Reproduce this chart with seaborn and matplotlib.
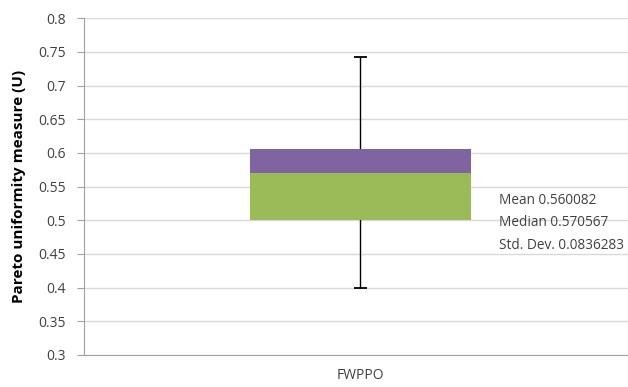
import numpy as np
import pandas as pd
import matplotlib
matplotlib.use('Agg')
import matplotlib.pyplot as plt
import seaborn as sns

# values
categories = ['FWPPO']
q1 = [0.5]
median = [0.5706]
q3 = [0.605]
whisker_low = [0.4]
whisker_high = [0.742]
stat_names = ['Mean', 'Median', 'Std. Dev.']
stat_values = ['0.560082', '0.570567', '0.0836283']

sns.set_style('white')
plt.rcParams['font.family'] = ['Open Sans', 'DejaVu Sans']

df = pd.DataFrame({'method': categories, 'q1': q1, 'median': median, 'q3': q3,
                   'lo': whisker_low, 'hi': whisker_high})
df['lower'] = df['median'] - df['q1']
df['upper'] = df['q3'] - df['median']

fig = plt.figure(figsize=(6.28, 3.87), dpi=100)
ax = fig.add_axes([0.134, 0.083, 0.88, 0.87])

# whisker behind the box
for i, row in df.iterrows():
    ax.vlines(i, row['lo'], row['hi'], color='black', lw=1.0, zorder=1)
    ax.hlines([row['lo'], row['hi']], i - 0.011, i + 0.011, color='black', lw=1.3, zorder=1)

sns.barplot(data=df, x='method', y='lower', bottom=df['q1'], color='#9BBB59',
            saturation=1, width=0.4, linewidth=0, ax=ax, zorder=2)
sns.barplot(data=df, x='method', y='upper', bottom=df['median'], color='#8064A2',
            saturation=1, width=0.4, linewidth=0, ax=ax, zorder=2)

ax.set_xlim(-0.5, 0.5)
ax.set_ylim(0.3, 0.8)
ax.set_yticks(np.arange(0.3, 0.801, 0.05))
ax.set_yticklabels(['%g' % round(v, 2) for v in np.arange(0.3, 0.801, 0.05)])
ax.yaxis.grid(True, color='#D9D9D9', lw=1)
ax.set_axisbelow(True)
ax.tick_params(axis='y', left=True, length=5, color='#A0A0A0', labelsize=10,
               labelcolor='#404040', pad=8)
ax.tick_params(axis='x', bottom=False, labelsize=10, labelcolor='#404040', pad=6)
ax.set_xlabel('')
ax.set_ylabel('Pareto uniformity measure (U)', fontsize=11, fontweight='bold',
              color='black')
ax.yaxis.set_label_coords(-0.105, 0.5)
for s in ['top', 'right']:
    ax.spines[s].set_visible(False)
for s in ['left', 'bottom']:
    ax.spines[s].set_color('#A0A0A0')

for k, (n, v) in enumerate(zip(stat_names, stat_values)):
    ax.text(0.25, 0.530 - k * 0.034, n + ' ' + v, fontsize=9.8, color='#404040',
            va='center', ha='left', clip_on=False)

fig.savefig('out.png', dpi=100)
